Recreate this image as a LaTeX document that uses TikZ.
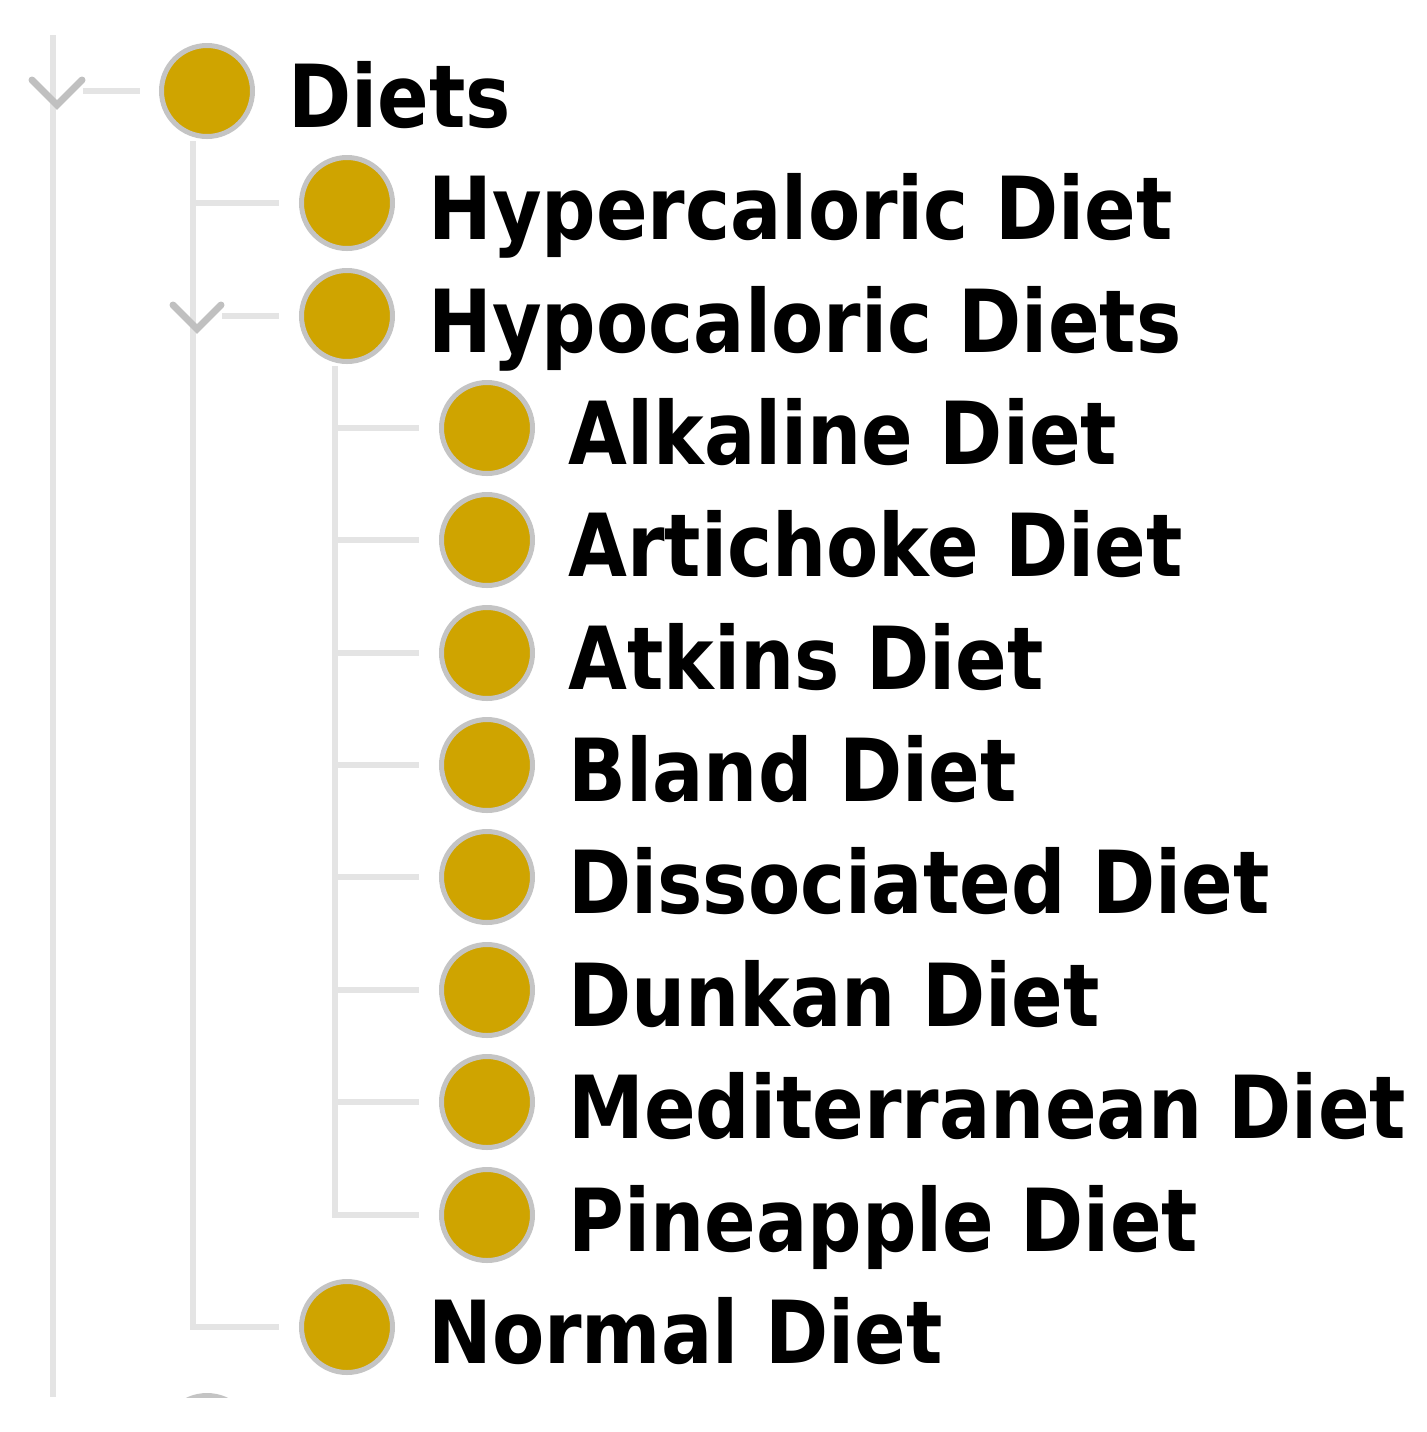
\documentclass[tikz,border=0pt]{standalone}
\usepackage{fontspec}
\newfontfamily\lblfont[FakeStretch=0.875]{DejaVu Sans}
\definecolor{gold}{HTML}{CFA400}
\definecolor{ringgray}{HTML}{C4C4C4}
\definecolor{linegray}{HTML}{E4E4E4}
\definecolor{chevgray}{HTML}{C0C0C0}
\begin{document}
\begin{tikzpicture}[x=0.5pt,y=-0.5pt,
  tline/.style={draw=linegray,line width=3pt},
  chev/.style={draw=chevgray,line width=3.5pt,line cap=round,line join=miter},
  dot/.style={circle,draw=ringgray,fill=gold,line width=2.5pt,minimum size=45.5pt,inner sep=0pt},
  lbl/.style={anchor=base west,inner sep=0pt,font=\lblfont\bfseries\fontsize{43.5}{50}\selectfont}]
\useasboundingbox (0,0) rectangle (1427,1432);
% level 0
\node[dot] (diets) at (207,91) {};
\node[lbl] (tdiets) at (288,127) {Diets};
% level 1
\node[dot] (hyper) at (347,203) {};
\node[lbl] (thyper) at (428,239) {Hypercaloric Diet};
\node[dot] (hypo) at (347,316) {};
\node[lbl] (thypo) at (428,352) {Hypocaloric Diets};
\node[dot] (normal) at (347,1327) {};
\node[lbl] (tnormal) at (428,1363) {Normal Diet};
% level 2
\node[dot] (alk) at (487,428) {};
\node[lbl] (talk) at (568,464) {Alkaline Diet};
\node[dot] (art) at (487,540) {};
\node[lbl] (tart) at (568,576) {Artichoke Diet};
\node[dot] (atk) at (487,653) {};
\node[lbl] (tatk) at (568,689) {Atkins Diet};
\node[dot] (bland) at (487,765) {};
\node[lbl] (tbland) at (568,801) {Bland Diet};
\node[dot] (diss) at (487,877) {};
\node[lbl] (tdiss) at (568,913) {Dissociated Diet};
\node[dot] (dunk) at (487,990) {};
\node[lbl] (tdunk) at (568,1026) {Dunkan Diet};
\node[dot] (med) at (487,1102) {};
\node[lbl] (tmed) at (568,1138) {Mediterranean Diet};
\node[dot] (pine) at (487,1215) {};
\node[lbl] (tpine) at (568,1251) {Pineapple Diet};
% outer spine
\coordinate (otop) at (53,35);
\coordinate (obot) at (53,1397);
\draw[tline] (otop) -- (obot);
\coordinate (dh0) at (83,91);
\coordinate (dh1) at (140,91);
\draw[tline] (dh0) -- (dh1);
\draw[chev] (32,80) -- (57,105) -- (82,80);
% level 1 spine
\coordinate (s1top) at (193,141);
\coordinate (s1bot) at (193,1327);
\draw[tline] (s1top) -- (s1bot) -- ([xshift=-10pt]normal.west);
\draw[tline] (s1top |- hyper) -- ([xshift=-10pt]hyper.west);
\draw[tline] (222,316) -- ([xshift=-10pt]hypo.west);
\draw[chev] (173,305) -- (197,329) -- (221,305);
% level 2 spine
\coordinate (s2top) at (335,366);
\coordinate (s2bot) at (335,1215);
\draw[tline] (s2top) -- (s2bot) -- ([xshift=-10pt]pine.west);
\foreach \n in {alk,art,atk,bland,diss,dunk,med}
  \draw[tline] (s2top |- \n) -- ([xshift=-10pt]\n.west);
% partially visible next item
\begin{scope}
\clip (150,1380) rectangle (260,1397);
\node[dot] (next) at (207,1441) {};
\end{scope}
\end{tikzpicture}
\end{document}
